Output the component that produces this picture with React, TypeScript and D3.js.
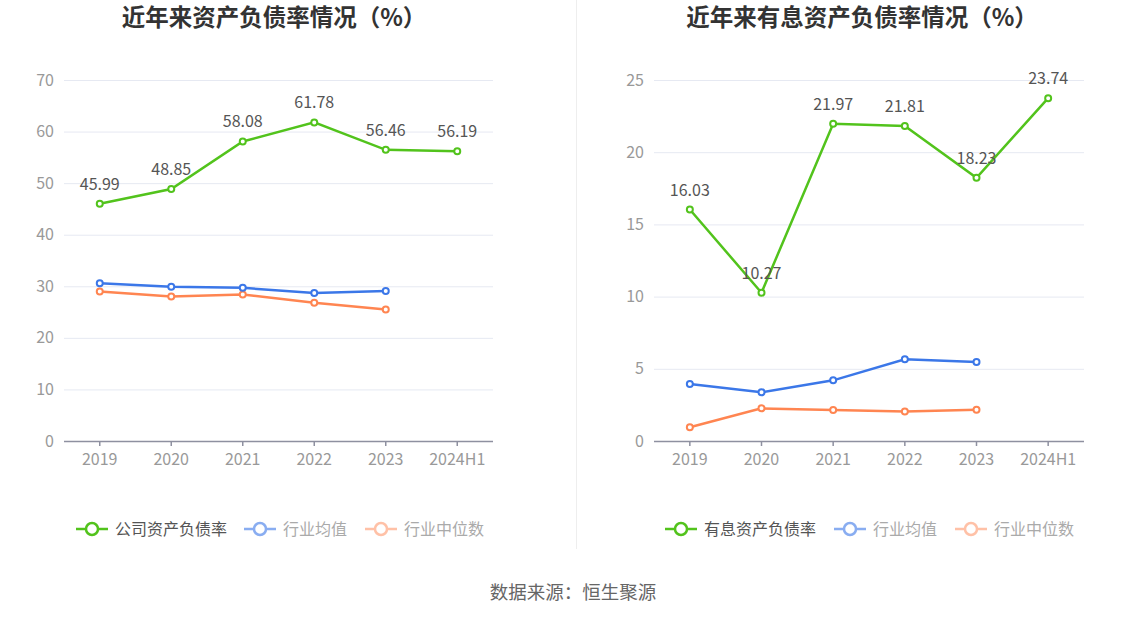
import React, { useEffect, useRef } from 'react';
import * as d3 from 'd3';

const years = ['2019', '2020', '2021', '2022', '2023', '2024H1'];

// 左图：资产负债率
const companyDebt = [45.99, 48.85, 58.08, 61.78, 56.46, 56.19];
const industryAvgDebt = [30.6, 29.9, 29.7, 28.7, 29.1];
const industryMedDebt = [29.0, 28.0, 28.4, 26.8, 25.5];
const leftTicks = [0, 10, 20, 30, 40, 50, 60, 70];

// 右图：有息资产负债率
const companyIbd = [16.03, 10.27, 21.97, 21.81, 18.23, 23.74];
const industryAvgIbd = [3.95, 3.37, 4.2, 5.66, 5.47];
const industryMedIbd = [0.95, 2.26, 2.15, 2.05, 2.17];
const rightTicks = [0, 5, 10, 15, 20, 25];

const GREEN = '#52c31c';
const BLUE = '#3b77e8';
const ORANGE = '#ff8551';
const FONT = '"Noto Sans CJK SC", "Noto Sans", sans-serif';

interface PanelCfg {
  title: string;
  cx: number;
  x0: number;
  x1: number;
  ticks: number[];
  max: number;
  main: number[];
  avg: number[];
  med: number[];
  legend: string[];
  legendX: number[];
}

const panels: PanelCfg[] = [
  {
    title: '近年来资产负债率情况（%）', cx: 274, x0: 64, x1: 493,
    ticks: leftTicks, max: 70, main: companyDebt, avg: industryAvgDebt, med: industryMedDebt,
    legend: ['公司资产负债率', '行业均值', '行业中位数'], legendX: [76, 244, 365],
  },
  {
    title: '近年来有息资产负债率情况（%）', cx: 862, x0: 654, x1: 1084,
    ticks: rightTicks, max: 25, main: companyIbd, avg: industryAvgIbd, med: industryMedIbd,
    legend: ['有息资产负债率', '行业均值', '行业中位数'], legendX: [665, 834, 955],
  },
];

const App: React.FC = () => {
  const svgRef = useRef<SVGSVGElement>(null);

  useEffect(() => {
    if (!svgRef.current) return;
    const svg = d3.select(svgRef.current);
    svg.selectAll('*').remove();
    svg.style('font-family', FONT);

    const yTop = 80;
    const yBot = 441;

    // 中间分隔线
    svg.append('line')
      .attr('x1', 576.5).attr('x2', 576.5).attr('y1', 0).attr('y2', 549)
      .attr('stroke', '#eeeeee').attr('stroke-width', 1);

    panels.forEach(p => {
      const g = svg.append('g');
      const x = d3.scaleBand<string>().domain(years).range([p.x0, p.x1]);
      const y = d3.scaleLinear().domain([0, p.max]).range([yBot, yTop]);
      const cxOf = (i: number) => (x(years[i]) as number) + x.bandwidth() / 2;

      g.append('text')
        .attr('x', p.cx).attr('y', 18)
        .attr('dy', '0.35em')
        .attr('text-anchor', 'middle')
        .attr('font-size', 23.5).attr('font-weight', 'bold')
        .attr('fill', '#333')
        .text(p.title);

      // 网格
      g.append('g').selectAll('line')
        .data(p.ticks.filter(t => t > 0))
        .join('line')
        .attr('x1', p.x0).attr('x2', p.x1)
        .attr('y1', d => y(d) + 0.5).attr('y2', d => y(d) + 0.5)
        .attr('stroke', '#e6e9f2');

      g.append('g').selectAll('text')
        .data(p.ticks)
        .join('text')
        .attr('x', p.x0 - 10).attr('y', d => y(d))
        .attr('dy', '0.35em')
        .attr('text-anchor', 'end')
        .attr('font-size', 16).attr('fill', '#999')
        .text(d => d);

      // x 轴
      g.append('line')
        .attr('x1', p.x0).attr('x2', p.x1)
        .attr('y1', yBot + 0.5).attr('y2', yBot + 0.5)
        .attr('stroke', '#8e90a0').attr('stroke-width', 1.5);
      g.append('g').selectAll('line')
        .data(years)
        .join('line')
        .attr('x1', (_, i) => cxOf(i)).attr('x2', (_, i) => cxOf(i))
        .attr('y1', yBot).attr('y2', yBot + 5)
        .attr('stroke', '#8e90a0').attr('stroke-width', 1.5);
      g.append('g').selectAll('text')
        .data(years)
        .join('text')
        .attr('x', (_, i) => cxOf(i)).attr('y', yBot + 24)
        .attr('text-anchor', 'middle')
        .attr('font-size', 16).attr('fill', '#999')
        .text(d => d);

      const line = d3.line<number>()
        .x((_, i) => cxOf(i))
        .y(d => y(d));

      const drawSeries = (vals: number[], color: string, labels: boolean) => {
        g.append('path')
          .datum(vals)
          .attr('d', line)
          .attr('fill', 'none')
          .attr('stroke', color)
          .attr('stroke-width', 2.5);
        g.append('g').selectAll('circle')
          .data(vals)
          .join('circle')
          .attr('cx', (_, i) => cxOf(i)).attr('cy', d => y(d))
          .attr('r', 3)
          .attr('fill', '#fff')
          .attr('stroke', color).attr('stroke-width', 2);
        if (labels) {
          g.append('g').selectAll('text')
            .data(vals)
            .join('text')
            .attr('x', (_, i) => cxOf(i)).attr('y', d => y(d) - 14)
            .attr('text-anchor', 'middle')
            .attr('font-size', 16).attr('fill', '#555')
            .text(d => d.toFixed(2));
        }
      };

      drawSeries(p.med, ORANGE, false);
      drawSeries(p.avg, BLUE, false);
      drawSeries(p.main, GREEN, true);

      // 图例
      const legendColors = [GREEN, BLUE, ORANGE];
      const legendText = ['#555', '#aaa', '#aaa'];
      const legendOpacity = [1, 0.6, 0.5];
      p.legend.forEach((name, i) => {
        const lx = p.legendX[i];
        const ly = 529;
        const lg = g.append('g').attr('opacity', legendOpacity[i]);
        lg.append('line')
          .attr('x1', lx).attr('x2', lx + 32)
          .attr('y1', ly).attr('y2', ly)
          .attr('stroke', legendColors[i]).attr('stroke-width', 2.5);
        lg.append('circle')
          .attr('cx', lx + 16).attr('cy', ly).attr('r', 6)
          .attr('fill', '#fff')
          .attr('stroke', legendColors[i]).attr('stroke-width', 2.5);
        g.append('text')
          .attr('x', lx + 39).attr('y', ly)
          .attr('dy', '0.35em')
          .attr('font-size', 16).attr('fill', legendText[i])
          .text(name);
      });
    });

    svg.append('text')
      .attr('x', 573).attr('y', 593)
      .attr('dy', '0.35em')
      .attr('text-anchor', 'middle')
      .attr('font-size', 18.5).attr('fill', '#666')
      .text('数据来源：恒生聚源');
  }, []);

  return (
    <svg
      ref={svgRef}
      width={1147}
      height={619}
      style={{ position: 'absolute', left: 0, top: 0, background: '#fff' }}
    />
  );
};

export default App;
